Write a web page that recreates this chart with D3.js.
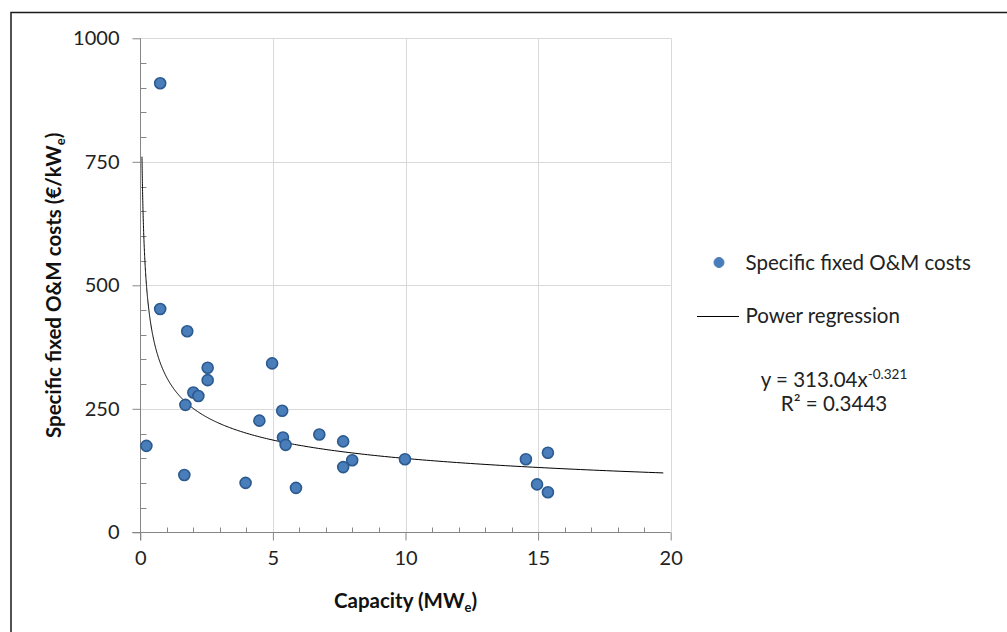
<!DOCTYPE html>
<html><head><meta charset="utf-8">
<script src="https://cdn.jsdelivr.net/npm/d3@7"></script>
<style>
html,body{margin:0;padding:0;background:#fff;}
svg{display:block;font-family:Lato,"Open Sans",sans-serif;}
</style></head>
<body>
<svg id="chart" width="1007" height="632"></svg>
<script>
// Data
const capacity = [0.75, 0.75, 1.77, 2.54, 2.54, 4.97, 2.0, 2.19, 1.70, 5.35, 4.49, 5.38, 5.48, 6.75, 7.65, 0.23, 7.99, 7.65, 9.98, 1.66, 3.97, 5.87, 14.54, 15.37, 14.96, 15.37];
const omCost   = [909, 452, 407, 333, 308, 342, 283, 276, 258, 246, 226, 192, 177, 198, 184, 175, 146, 132, 148, 116, 100, 90, 148, 161, 97, 81];
const xTicks = [0, 5, 10, 15, 20];
const yTicks = [0, 250, 500, 750, 1000];
const regA = 313.04, regB = -0.321;
const regRange = [0.063, 19.72];
const seriesName = "Specific fixed O&M costs";
const lineName = "Power regression";

const svg = d3.select("#chart");
const x = d3.scaleLinear().domain([0, 20]).range([140.3, 670.7]);
const y = d3.scaleLinear().domain([0, 1000]).range([532.3, 38.3]);
const axisCol = "#868686", gridCol = "#d9d9d9";
const tickFont = "20px", legFont = "20.5px", titleFont = "20.5px";

// outer border
svg.append("path").attr("d", "M11,632 V12.5 H1007").attr("fill", "none").attr("stroke", "#1a1a1a").attr("stroke-width", 1.5);

// gridlines
svg.append("g").selectAll("line").data(yTicks.filter(d => d > 0)).join("line")
  .attr("x1", x(0)).attr("x2", x(20)).attr("y1", d => Math.round(y(d)) + 0.5).attr("y2", d => Math.round(y(d)) + 0.5)
  .attr("stroke", gridCol).attr("stroke-width", 1);
svg.append("g").selectAll("line").data(xTicks.filter(d => d > 0)).join("line")
  .attr("y1", y(0)).attr("y2", y(1000)).attr("x1", d => Math.round(x(d)) + 0.5).attr("x2", d => Math.round(x(d)) + 0.5)
  .attr("stroke", gridCol).attr("stroke-width", 1);

// Y axis: major ticks outward, minor ticks inward
const yAxis = d3.axisLeft(y).tickValues(yTicks).tickSize(8).tickPadding(13).tickFormat(d3.format("d"));
const gy = svg.append("g").attr("transform", `translate(${Math.round(x(0)) + 0.5},0)`).call(yAxis);
gy.select(".domain").attr("stroke", axisCol).attr("d", `M0,${y(1000)}V${y(0) + 8}`);
gy.selectAll(".tick line").attr("stroke", axisCol);
gy.selectAll(".tick text").attr("fill", "#222").style("font-size", tickFont).style("font-family", "Lato");
const yMinor = d3.range(0, 1001, 50).filter(d => d % 250 !== 0);
gy.append("g").selectAll("line").data(yMinor).join("line")
  .attr("x1", 0).attr("x2", 6).attr("y1", d => Math.round(y(d)) + 0.5).attr("y2", d => Math.round(y(d)) + 0.5)
  .attr("stroke", axisCol);

// X axis
const xAxis = d3.axisBottom(x).tickValues(xTicks).tickSize(8).tickPadding(10).tickFormat(d3.format("d"));
const gx = svg.append("g").attr("transform", `translate(0,${Math.round(y(0)) + 0.5})`).call(xAxis);
gx.select(".domain").attr("stroke", axisCol).attr("d", `M${x(0) - 8},0H${x(20)}`);
gx.selectAll(".tick line").attr("stroke", axisCol);
gx.selectAll(".tick text").attr("fill", "#222").style("font-size", tickFont).style("font-family", "Lato");
const xMinor = d3.range(0, 20.01, 1).filter(d => d % 5 !== 0);
gx.append("g").selectAll("line").data(xMinor).join("line")
  .attr("y1", 0).attr("y2", -5).attr("x1", d => Math.round(x(d)) + 0.5).attr("x2", d => Math.round(x(d)) + 0.5)
  .attr("stroke", axisCol);

// regression curve
const regPts = d3.range(0, 401).map(i => {
  const t = i / 400;
  const xv = Math.exp(Math.log(regRange[0]) + t * (Math.log(regRange[1]) - Math.log(regRange[0])));
  return [xv, regA * Math.pow(xv, regB)];
});
svg.append("path").datum(regPts)
  .attr("d", d3.line().x(d => x(d[0])).y(d => y(d[1])))
  .attr("fill", "none").attr("stroke", "#000").attr("stroke-width", 1);

// points
svg.append("g").selectAll("circle").data(capacity.map((c, i) => [c, omCost[i]])).join("circle")
  .attr("cx", d => x(d[0])).attr("cy", d => y(d[1])).attr("r", 5.5)
  .attr("fill", "#4a7ebb").attr("stroke", "#2b5a8f").attr("stroke-width", 1.6);

// axis titles
const xt = svg.append("text").attr("x", (x(0) + x(20)) / 2).attr("y", 608).attr("text-anchor", "middle")
  .style("font-size", titleFont).style("font-weight", "bold").attr("fill", "#111");
xt.append("tspan").text("Capacity (MW");
xt.append("tspan").text("e").style("font-size", "13px").attr("dy", 4);
xt.append("tspan").text(")").attr("dy", -4);

const yt = svg.append("text").attr("transform", `translate(61,${(y(0) + y(1000)) / 2}) rotate(-90)`).attr("text-anchor", "middle")
  .style("font-size", titleFont).style("font-weight", "bold").attr("fill", "#111");
yt.append("tspan").text("Specific fixed O&M costs (€/kW");
yt.append("tspan").text("e").style("font-size", "13px").attr("dy", 4);
yt.append("tspan").text(")").attr("dy", -4);

// legend
svg.append("circle").attr("cx", 719).attr("cy", 262.5).attr("r", 5).attr("fill", "#4a7ebb").attr("stroke", "#4a7ebb");
svg.append("text").attr("x", 745.5).attr("y", 269.5).text(seriesName).style("font-size", legFont).attr("fill", "#222");
svg.append("line").attr("x1", 697).attr("x2", 739).attr("y1", 316.5).attr("y2", 316.5).attr("stroke", "#000");
svg.append("text").attr("x", 745.5).attr("y", 322.5).text(lineName).style("font-size", legFont).attr("fill", "#222");

// equation
const eq = svg.append("text").attr("x", 834).attr("y", 387).attr("text-anchor", "middle").style("font-size", legFont).attr("fill", "#222");
eq.append("tspan").text("y = " + regA.toFixed(2) + "x");
eq.append("tspan").text(String(regB)).style("font-size", "13.5px").attr("dy", -8);
svg.append("text").attr("x", 834).attr("y", 411).attr("text-anchor", "middle").style("font-size", legFont).attr("fill", "#222").text("R² = 0.3443");
</script>
</body></html>
